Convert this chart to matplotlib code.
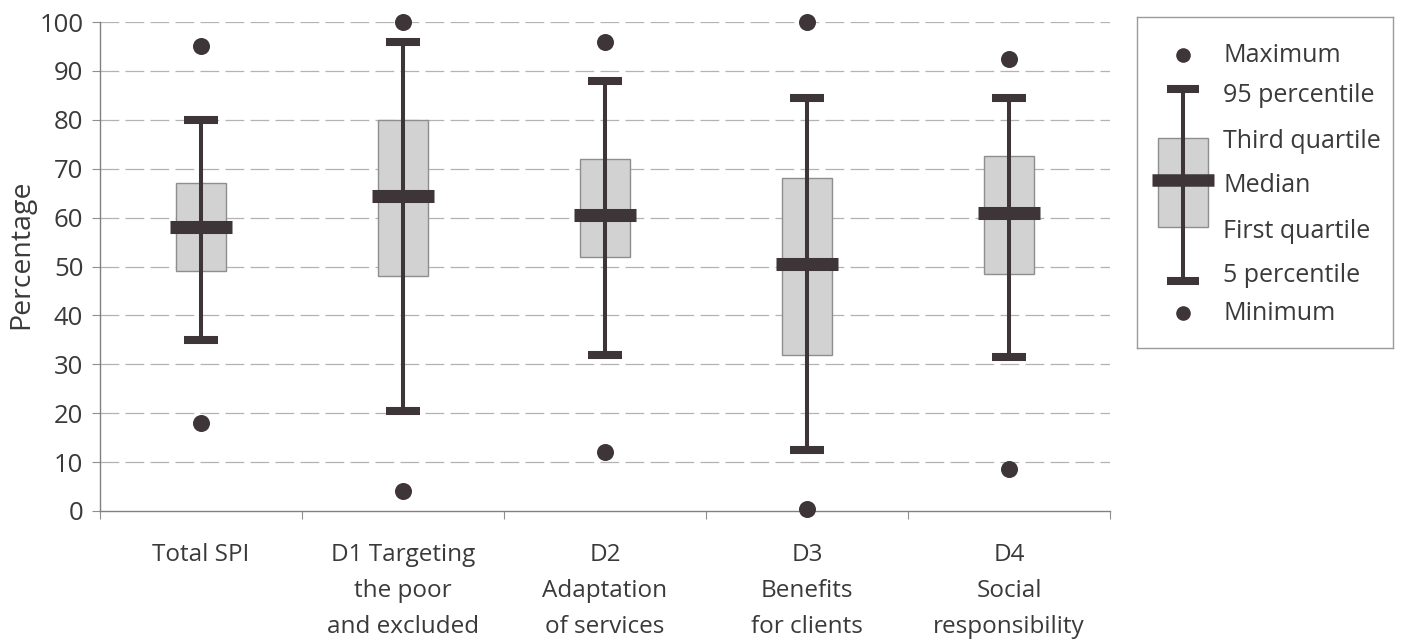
import matplotlib
matplotlib.use("Agg")
import matplotlib.pyplot as plt
from matplotlib.patches import Rectangle

plt.rcParams["font.family"] = ["Open Sans", "DejaVu Sans"]

categories = [
    "Total SPI",
    "D1 Targeting\nthe poor\nand excluded",
    "D2\nAdaptation\nof services",
    "D3\nBenefits\nfor clients",
    "D4\nSocial\nresponsibility",
]
maximum = [95, 100, 96, 100, 92.5]
p95 = [80, 96, 88, 84.5, 84.5]
q3 = [67, 80, 72, 68, 72.5]
median = [58, 64.5, 60.5, 50.5, 61]
q1 = [49, 48, 52, 32, 48.5]
p5 = [35, 20.5, 32, 12.5, 31.5]
minimum = [18, 4, 12, 0.4, 8.5]

key_labels = ["Maximum", "95 percentile", "Third quartile", "Median",
              "First quartile", "5 percentile", "Minimum"]

DARK = "#3d3537"
BOXFACE = "#d2d2d2"
BOXEDGE = "#8e8e8e"
TEXT = "#3a3a3a"

fig = plt.figure(figsize=(14.02, 6.39), dpi=100)
ax = fig.add_axes([100 / 1402, 1 - 511 / 639, 1010 / 1402, 489 / 639])

x = list(range(len(categories)))
ax.set_xlim(-0.5, len(categories) - 0.5)
ax.set_ylim(0, 100)

# dashed grid
for yv in range(10, 101, 10):
    ax.axhline(yv, color="#b3b3b3", lw=0.9, dashes=(15, 5), zorder=0)

ax.bar(x, [a - b for a, b in zip(q3, q1)], bottom=q1, width=0.245,
       facecolor=BOXFACE, edgecolor=BOXEDGE, lw=1.0, zorder=2)
ax.vlines(x, p5, p95, color=DARK, lw=2.9, zorder=3)
ax.hlines(p95, [i - 0.083 for i in x], [i + 0.083 for i in x], color=DARK, lw=5.8, zorder=4, capstyle="butt")
ax.hlines(p5, [i - 0.083 for i in x], [i + 0.083 for i in x], color=DARK, lw=5.8, zorder=4, capstyle="butt")
ax.hlines(median, [i - 0.155 for i in x], [i + 0.155 for i in x], color=DARK, lw=9.4, zorder=5, capstyle="butt")
ax.scatter(x, maximum, s=150, color=DARK, zorder=6, clip_on=False, lw=0)
ax.scatter(x, minimum, s=150, color=DARK, zorder=6, clip_on=False, lw=0)

for s in ["top", "right"]:
    ax.spines[s].set_visible(False)
for s in ["left", "bottom"]:
    ax.spines[s].set_color("#808080")
    ax.spines[s].set_linewidth(1.0)

ax.set_yticks(range(0, 101, 10))
ax.tick_params(axis="y", direction="out", length=6, width=0.8, color="#909090",
               labelsize=18.5, labelcolor=TEXT, pad=6)
ax.set_xticks(x)
ax.set_xticklabels(categories, fontsize=17.5, color=TEXT, linespacing=1.68, va="top")
ax.set_xticks([i - 0.5 for i in range(len(categories) + 1)], minor=True)
ax.tick_params(axis="x", which="major", length=0, pad=23)
ax.tick_params(axis="x", which="minor", length=6, width=0.8, color="#909090", direction="out")

fig.text(21 / 1402, 1 - 254 / 639, "Percentage", rotation=90, ha="center", va="center",
         fontsize=20.5, color=TEXT)

# key box
lg = fig.add_axes([1137 / 1402, 1 - 348 / 639, 256 / 1402, 331 / 639])
lg.set_xlim(0, 256)
lg.set_ylim(331, 0)
lg.set_xticks([])
lg.set_yticks([])
for s in lg.spines.values():
    s.set_color("#9a9a9a")
    s.set_linewidth(1.0)
    s.set_linestyle((0, (1, 1)))

kx = 46
key_y = [38, 72, 121, 163, 210, 264, 296]
lg.add_patch(Rectangle((kx - 25, key_y[2]), 50, key_y[4] - key_y[2],
                       facecolor=BOXFACE, edgecolor=BOXEDGE, lw=1.0, zorder=2))
lg.vlines(kx, key_y[1], key_y[5], color=DARK, lw=2.9, zorder=3)
lg.hlines([key_y[1], key_y[5]], kx - 16, kx + 16, color=DARK, lw=5.8, zorder=4, capstyle="butt")
lg.hlines(key_y[3], kx - 31, kx + 31, color=DARK, lw=9.0, zorder=5, capstyle="butt")
lg.plot([kx, kx], [key_y[0], key_y[6]], ls="none", marker="o", ms=9.5, color=DARK, zorder=6)

text_y = [39, 79, 124, 169, 214, 259, 296]
for lab, ty in zip(key_labels, text_y):
    lg.text(86, ty, lab, fontsize=18, color=TEXT, va="center", ha="left")

fig.savefig("out.png", dpi=100, facecolor="white")
